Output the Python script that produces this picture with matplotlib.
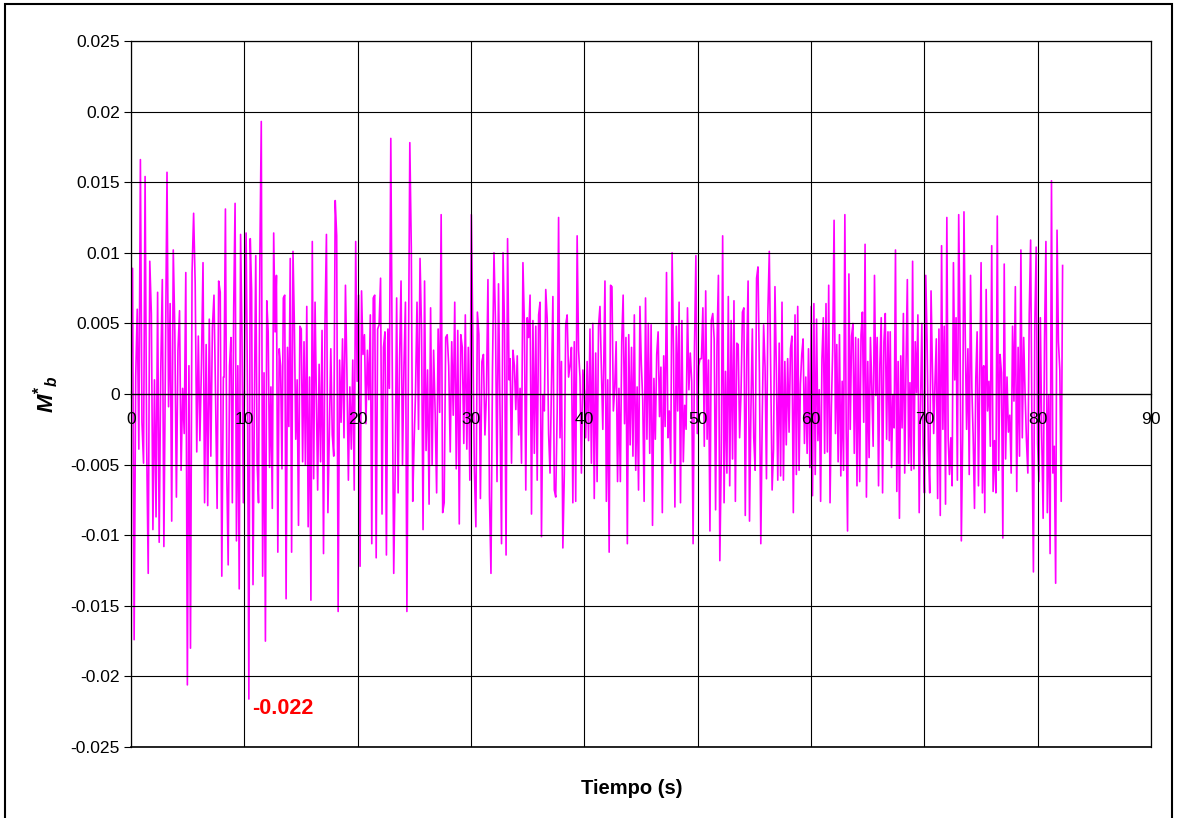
import numpy as np
import matplotlib
matplotlib.use('Agg')
import matplotlib.pyplot as plt
from matplotlib.ticker import FuncFormatter
from matplotlib.patches import Rectangle

plt.rcParams['font.family'] = ['Liberation Sans', 'DejaVu Sans']
plt.rcParams['mathtext.fontset'] = 'custom'
plt.rcParams['mathtext.it'] = 'Liberation Sans:italic:bold'
plt.rcParams['mathtext.rm'] = 'Liberation Sans:bold'

# M*b values, in units of 1e-3, one list per stretch of time
seg_0 = [2.0, 8.9, -17.4, 1.2, 6.0, -3.9, 16.6, -2.0, -4.9, 15.4, -3.5, -12.7, 9.4, 5.7, -9.6, 1.0,
         -8.7, 7.2, -10.5, 1.5, 8.1, -10.8, 2.0, 15.7, -0.9, 6.4, -9.0, 10.2, 4.4, -7.3, 3.1, 5.9,
         -5.4, 0.4, -2.8, 8.6, -20.6, 2.0, -18.0, 8.6, 12.8, 7.8, -4.1, 4.1, -3.3, 2.0, 9.3, -7.7,
         3.5, -7.9, 5.3, -4.4, 4.7, 7.0, 0.0, -8.1, 8.0, 7.2, -12.9, 1.2]
seg_1 = [1.2, 13.1, -5.7, -12.1, 2.0, 4.0, -7.7, 6.1, 13.5, -10.4, 2.0, -13.8, 11.3, 4.1, -7.7, 3.5,
         11.4, 0.1, -21.6, 11.0, 7.3, -13.5, -0.7, 9.8, -4.9, -7.7, 10.0, 19.3, -12.9, 1.5, -17.5, 6.6,
         4.4, -5.2, 0.5, -8.1, 11.4, 4.4, 8.4, -11.2, 3.2, 2.0, -5.3, 6.8, 7.0, -14.5, 3.3, -2.3,
         9.6, -11.2, 10.1, 4.9, -3.2, 1.0, -9.3, 4.8, 4.6, -4.8, 3.7, -5.0, 6.2, -9.4, 1.2, -14.6,
         10.8, -6.0, 6.5]
seg_2 = [-6.8, 2.1, -4.8, 4.5, -11.3, 4.9, 11.3, -8.4, -2.5, 3.2, -2.9, -4.4, 13.7, 11.2, -15.4, 2.4,
         -2.0, 3.9, -3.1, 7.7, 1.5, -6.1, 0.5, -3.9, 2.4, -6.8, 10.8, 0.9, 7.0, -12.2, 7.3, 2.8,
         4.2, -2.1, 3.1, -0.4, 5.6, -10.6, 6.8, 7.0, -11.6, 4.6, 4.9, 8.2, -8.5, 3.3, 4.4, -11.4,
         4.6, 0.4, 18.1, 1.7, -12.7, -5.3, 6.8, -7.0, 2.5, 8.0, -5.0, 2.0, 6.5, -15.4, 1.5, 17.8,
         10.4, -7.6]
seg_3 = [-3.7, 0.0, 6.5, -2.5, 9.6, 4.5, -9.6, 8.0, -4.0, 1.7, -7.8, 6.1, -5.0, 3.1, -1.2, -7.0,
         4.6, -1.3, 12.7, -8.4, -7.7, 4.0, 4.2, 2.0, -4.1, 3.7, -1.5, 6.5, -5.3, 4.5, -9.2, 4.2,
         3.3, -3.5, 5.6, -3.9, 3.3, -6.1, 12.7, 4.0, -5.4, -9.4, 5.8, 4.2, -7.4, 2.3, 2.8, -2.9,
         0.0, 8.1, -7.2, -12.7, 1.7, 10.0, 5.0, -6.2, 7.8, -1.2, -10.6, 10.0, 4.5, -11.4, 11.0, 1.0]
seg_4 = [2.5, -4.9, 3.1, 2.0, -1.1, 2.7, -2.9, 0.4, -4.9, 9.3, 5.0, -6.8, 5.4, 4.0, 7.0, -8.5,
         5.2, -4.2, 4.8, -6.1, 5.6, 6.5, -10.1, -0.1, -1.2, 7.4, 5.3, -2.8, -5.6, 0.9, 6.9, -6.8,
         -7.3, -1.3, 12.5, -3.1, 2.3, -10.9, -5.7, 4.9, 5.6, 1.2, 2.0, 3.3, -7.7, 3.7, -7.6, 11.2,
         3.1, 1.2, -5.6, 1.7, 0.3, -3.1, 2.3, -3.3, 4.6, -4.9, 5.0, -7.4, 2.9, -6.2, 4.8, 6.2,
         2.0, -2.5]
seg_5 = [8.0, -7.6, 1.0, -11.2, 7.7, 7.6, -1.2, 0.5, 3.7, -6.2, 0.4, -6.2, 3.7, 7.0, -2.1, 4.0,
         -10.6, 4.2, -3.6, 3.3, -4.4, 5.6, -5.4, 0.5, -6.8, 6.2, 2.1, -0.4, -7.6, 6.8, -3.2, 5.0,
         -4.2, 4.9, -9.3, 1.1, -3.2, 2.8, 4.4, -1.6, 1.9, -8.4, 2.7, -2.3, 8.6, -3.1, -1.2, -4.9,
         10.0, 3.1, -8.0, 4.8, -1.2, 6.5, -7.7, 5.2, -4.8, -0.8, -2.5, 6.1, 0.3, 2.9, 0.9, -10.6,
         3.3, 9.8, -2.8, 2.0]
seg_6 = [2.5, 2.5, 6.1, -3.7, 7.3, -3.2, 2.4, -9.7, 5.2, 5.7, 3.9, -8.2, 3.5, 8.4, -11.8, -4.6,
         11.2, -7.7, 1.6, -5.6, 6.9, -6.5, 5.2, -4.6, 6.6, -7.6, 3.6, 3.5, -3.1, 0.1, 5.8, 6.1,
         -8.6, 2.4, 8.0, -9.0, -1.1, 4.6, -3.1, -5.4, 8.2, 9.0, 1.5, -10.6, -1.7, 4.9, 1.9, -6.0,
         5.8, 10.1, 1.7, -6.8, -3.9, 7.6, 1.7, -6.1, 3.6, -5.8, 6.5, -6.1, 2.3, -3.6, 2.5, -2.7,
         3.2, 4.1, -8.4]
seg_7 = [5.6, -5.7, 6.2, -5.4, 0.7, 2.8, 3.9, -3.5, 1.2, -4.2, 3.2, -5.2, 6.2, -7.2, 6.4, -5.7,
         5.3, -3.3, 0.3, -7.6, 2.5, 5.4, -4.2, 6.4, -4.1, 7.7, -7.7, -0.9, 3.3, 12.3, -2.8, 3.5,
         -4.8, 4.2, -5.8, 0.9, -5.4, 12.7, -2.5, -9.7, 8.5, -2.5, 4.1, 5.0, -4.2, 4.0, -6.5, 3.9,
         -6.2, 4.2, 5.8, -2.0, 10.6, -7.3, 2.3, -4.5, 4.0, 0.4, -3.7, 8.4, -0.1, 4.0, -6.5, 2.1,
         5.4, -7.0, 3.7, 5.7, -3.2, 4.4, -3.3]
seg_8 = [4.4, -5.2, -0.1, -2.4, 10.2, -6.9, 2.3, -8.8, 2.7, -2.4, 5.7, -5.6, 2.0, 8.1, -4.9, 0.8,
         -5.4, 9.4, -5.3, 3.7, 0.1, 5.6, -8.4, -0.9, 5.0, -3.6, -7.0, 8.4, 3.7, -3.9, -7.0, 7.3,
         2.0, -2.8, 0.8, 3.9, -7.4, 4.6, -8.6, 10.5, -2.5, 4.8, -7.8, 12.5, -3.1, -5.7, -3.1, -6.5,
         9.3, 1.0, 5.4, -6.1, 12.7, 4.4, -10.4, -3.0, 12.9, 3.9, -2.5, 3.2, -5.7, 8.4, 0.4, -3.1,
         -8.1, 1.1, 4.4, -6.5, 1.7, 9.3, -7.0, 2.0]
seg_9 = [1.8, -8.4, 7.4, -1.2, 0.9, -3.7, 10.5, -6.9, -3.3, -7.0, 12.6, -5.4, 2.8, 1.5, -10.2, 9.2,
         -4.6, 1.2, -2.7, -1.5, -5.6, 4.8, -0.5, 7.6, -6.9, 3.3, -4.4, 10.2, -3.1, 4.0, 0.1, -3.3,
         -5.6, 5.7, 10.9, -3.3, -12.6, 4.9, 10.4, -3.5, -6.2, 5.4, -3.1, -8.8, 3.9, 10.8, -8.4, -0.1,
         -11.3, 15.1, -5.6, -3.7, -13.4, 11.6, 3.7, 1.7, -7.6, 9.1]

# time span (s) covered by each list above
seg_t0 = [0.0, 8.21, 16.47, 24.97, 33.45, 41.82, 50.21, 58.59, 66.99, 75.21]
seg_t1 = [8.15, 16.24, 24.86, 33.36, 41.63, 50.09, 58.44, 66.91, 75.24, 82.2]

segs = [seg_0, seg_1, seg_2, seg_3, seg_4, seg_5, seg_6, seg_7, seg_8, seg_9]
t = np.concatenate([np.linspace(a, b, len(s)) for a, b, s in zip(seg_t0, seg_t1, segs)])
m = np.concatenate(segs) * 1e-3

peak_label = '-0.022'   # the marked minimum

W, H = 1179, 818
fig = plt.figure(figsize=(W / 100, H / 100), dpi=100)
# outer chart frame (its bottom edge runs off the picture)
fig.patches.append(Rectangle((5 / W, -6 / H), 1167 / W, 820 / H, transform=fig.transFigure,
                             fill=False, edgecolor='black', lw=1.5))

ax = fig.add_axes([131 / W, 1 - 747 / H, (1151 - 131) / W, (747 - 41) / H])
ax.plot(t, m, color='#ff00ff', lw=1.2)

ax.set_xlim(0, 90)
ax.set_ylim(-0.025, 0.025)
ax.set_xticks(np.arange(0, 91, 10))
ax.set_yticks(np.linspace(-0.025, 0.025, 11))
ax.yaxis.set_major_formatter(FuncFormatter(lambda v, _: '0' if abs(v) < 1e-9 else f'{v:g}'))

ax.set_axisbelow(False)
ax.grid(True, color='black', lw=0.8)
for s in ['top', 'right', 'left']:
    ax.spines[s].set_color('black')
    ax.spines[s].set_linewidth(0.9)
ax.spines['bottom'].set_position(('data', 0))
ax.spines['bottom'].set_linewidth(0.9)
ax.axhline(-0.025, color='black', lw=1.2, clip_on=False)

ax.tick_params(axis='y', direction='out', length=5, width=0.8, labelsize=12.6, pad=3)
ax.tick_params(axis='x', direction='inout', length=6, width=0.8, labelsize=12.6, pad=10)

ax.set_ylabel(r'$M^{*}{}_{b}$', fontsize=16, labelpad=7)
fig.text(632 / W, 1 - 789 / H, 'Tiempo (s)', ha='center', va='center',
         fontsize=14.5, fontweight='bold')

ax.text(10.7, -0.0223, peak_label, ha='left', va='center',
        color='red', fontsize=15.5, fontweight='bold')

fig.savefig('out.png', dpi=100)
